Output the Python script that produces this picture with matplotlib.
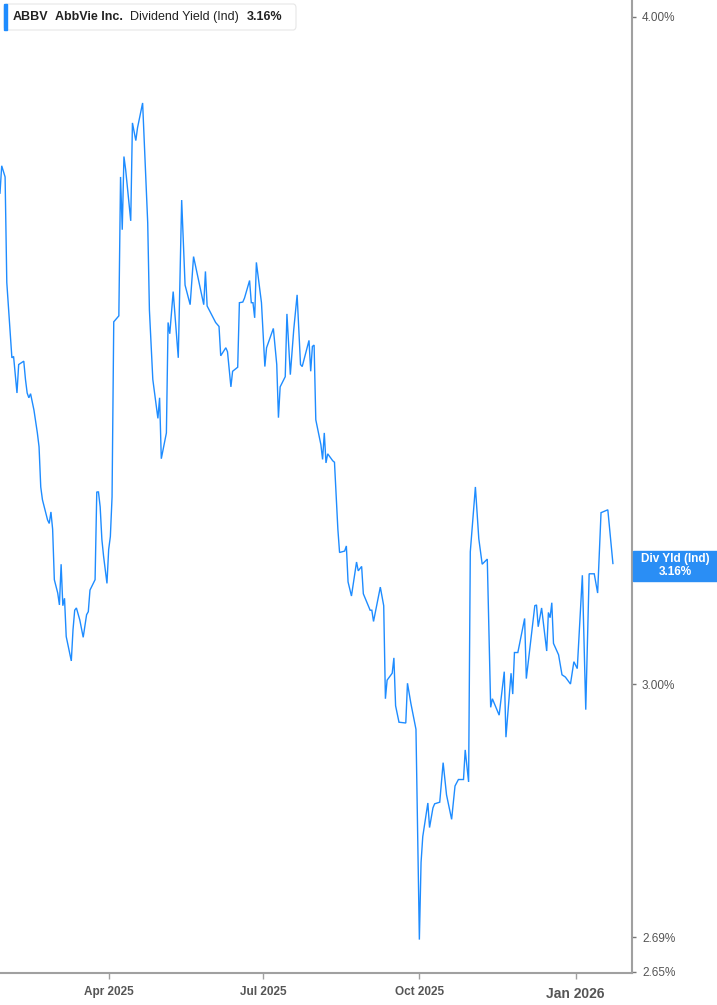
import matplotlib
matplotlib.use("Agg")
import matplotlib.pyplot as plt
from matplotlib.patches import FancyBboxPatch, Rectangle
import pandas as pd

plt.rcParams["font.family"] = ["Liberation Sans", "DejaVu Sans"]

# ABBV dividend yield (Ind), %
dates = [
    "2025-01-27", "2025-01-28", "2025-01-30", "2025-01-31", "2025-02-03", "2025-02-04",
    "2025-02-06", "2025-02-07", "2025-02-10", "2025-02-11", "2025-02-12", "2025-02-13",
    "2025-02-14", "2025-02-16", "2025-02-18", "2025-02-19", "2025-02-20", "2025-02-21",
    "2025-02-24", "2025-02-25", "2025-02-26", "2025-02-27", "2025-02-28", "2025-03-02",
    "2025-03-03", "2025-03-04", "2025-03-05", "2025-03-06", "2025-03-07", "2025-03-10",
    "2025-03-11", "2025-03-12", "2025-03-13", "2025-03-15", "2025-03-17", "2025-03-19",
    "2025-03-20", "2025-03-21", "2025-03-24", "2025-03-25", "2025-03-26", "2025-03-27",
    "2025-03-28", "2025-03-29", "2025-03-31", "2025-04-01", "2025-04-02", "2025-04-03",
    "2025-04-04", "2025-04-07", "2025-04-08", "2025-04-09", "2025-04-10", "2025-04-11",
    "2025-04-14", "2025-04-15", "2025-04-17", "2025-04-18", "2025-04-21", "2025-04-22",
    "2025-04-24", "2025-04-25", "2025-04-27", "2025-04-30", "2025-05-01", "2025-05-02",
    "2025-05-05", "2025-05-06", "2025-05-07", "2025-05-09", "2025-05-12", "2025-05-14",
    "2025-05-16", "2025-05-19", "2025-05-21", "2025-05-27", "2025-05-28", "2025-05-29",
    "2025-06-03", "2025-06-05", "2025-06-06", "2025-06-09", "2025-06-10", "2025-06-12",
    "2025-06-13", "2025-06-16", "2025-06-17", "2025-06-19", "2025-06-20", "2025-06-23",
    "2025-06-24", "2025-06-25", "2025-06-26", "2025-06-27", "2025-06-30", "2025-07-02",
    "2025-07-03", "2025-07-07", "2025-07-09", "2025-07-10", "2025-07-11", "2025-07-14",
    "2025-07-15", "2025-07-17", "2025-07-19", "2025-07-21", "2025-07-23", "2025-07-24",
    "2025-07-28", "2025-07-29", "2025-07-30", "2025-07-31", "2025-08-01", "2025-08-04",
    "2025-08-05", "2025-08-06", "2025-08-07", "2025-08-08", "2025-08-11", "2025-08-12",
    "2025-08-14", "2025-08-15", "2025-08-18", "2025-08-19", "2025-08-20", "2025-08-22",
    "2025-08-25", "2025-08-26", "2025-08-28", "2025-08-29", "2025-09-02", "2025-09-03",
    "2025-09-04", "2025-09-08", "2025-09-10", "2025-09-11", "2025-09-12", "2025-09-15",
    "2025-09-16", "2025-09-17", "2025-09-19", "2025-09-23", "2025-09-24", "2025-09-26",
    "2025-09-29", "2025-10-01", "2025-10-02", "2025-10-03", "2025-10-06", "2025-10-07",
    "2025-10-09", "2025-10-10", "2025-10-13", "2025-10-15", "2025-10-17", "2025-10-20",
    "2025-10-22", "2025-10-24", "2025-10-27", "2025-10-28", "2025-10-30", "2025-10-31",
    "2025-11-03", "2025-11-05", "2025-11-07", "2025-11-10", "2025-11-12", "2025-11-13",
    "2025-11-17", "2025-11-20", "2025-11-21", "2025-11-24", "2025-11-25", "2025-11-26",
    "2025-11-28", "2025-12-02", "2025-12-03", "2025-12-06", "2025-12-08", "2025-12-09",
    "2025-12-10", "2025-12-12", "2025-12-15", "2025-12-16", "2025-12-17", "2025-12-18",
    "2025-12-19", "2025-12-22", "2025-12-24", "2025-12-26", "2025-12-29", "2025-12-31",
    "2026-01-02", "2026-01-05", "2026-01-07", "2026-01-09", "2026-01-12", "2026-01-14",
    "2026-01-16", "2026-01-20", "2026-01-23",
]
yields = [
    3.707, 3.751, 3.733, 3.567, 3.453, 3.455,
    3.401, 3.443, 3.448, 3.421, 3.401, 3.394,
    3.400, 3.376, 3.343, 3.323, 3.266, 3.248,
    3.220, 3.215, 3.231, 3.207, 3.138, 3.120,
    3.104, 3.159, 3.103, 3.113, 3.062, 3.030,
    3.071, 3.097, 3.100, 3.084, 3.061, 3.091,
    3.095, 3.124, 3.138, 3.259, 3.259, 3.238,
    3.193, 3.170, 3.133, 3.179, 3.197, 3.252,
    3.507, 3.516, 3.733, 3.649, 3.766, 3.745,
    3.663, 3.821, 3.792, 3.813, 3.854, 3.789,
    3.660, 3.525, 3.421, 3.364, 3.394, 3.306,
    3.343, 3.506, 3.489, 3.553, 3.453, 3.696,
    3.563, 3.533, 3.607, 3.533, 3.584, 3.531,
    3.506, 3.500, 3.456, 3.468, 3.462, 3.410,
    3.433, 3.439, 3.536, 3.537, 3.543, 3.570,
    3.536, 3.536, 3.513, 3.598, 3.536, 3.440,
    3.468, 3.497, 3.443, 3.365, 3.410, 3.425,
    3.519, 3.428, 3.495, 3.548, 3.443, 3.440,
    3.479, 3.433, 3.470, 3.472, 3.362, 3.326,
    3.305, 3.343, 3.300, 3.313, 3.303, 3.301,
    3.207, 3.175, 3.177, 3.184, 3.135, 3.116,
    3.162, 3.150, 3.156, 3.119, 3.097, 3.097,
    3.082, 3.128, 3.103, 2.981, 3.005, 3.014,
    3.034, 2.972, 2.951, 2.950, 3.001, 2.975,
    2.942, 2.687, 2.778, 2.809, 2.850, 2.820,
    2.844, 2.849, 2.851, 2.900, 2.860, 2.830,
    2.871, 2.879, 2.879, 2.916, 2.876, 3.176,
    3.266, 3.194, 3.159, 3.166, 2.970, 2.981,
    2.960, 3.016, 2.932, 3.014, 2.987, 3.041,
    3.041, 3.086, 3.007, 3.065, 3.103, 3.104,
    3.075, 3.100, 3.043, 3.094, 3.087, 3.107,
    3.053, 3.038, 3.012, 3.009, 3.000, 3.029,
    3.020, 3.144, 2.967, 3.146, 3.146, 3.120,
    3.230, 3.234, 3.160,
]

ytick_vals = [2.65, 2.69, 3.00, 4.00]
ytick_labels = ["2.65%", "2.69%", "3.00%", "4.00%"]
xtick_dates = ["2025-04-01", "2025-07-01", "2025-10-01", "2026-01-01"]
xtick_labels = ["Apr 2025", "Jul 2025", "Oct 2025", "Jan 2026"]
last_value = 3.16

LINE = "#1e8cff"
AXIS = "#a0a0a0"
TEXT = "#555555"

x = pd.to_datetime(dates)

W, H = 717, 1005
fig = plt.figure(figsize=(W / 100, H / 100), dpi=100)
ax = fig.add_axes([0, 32 / H, 632.3 / W, 973 / H])

ax.plot(x, yields, color=LINE, lw=1.0, solid_joinstyle="miter")

ax.set_yscale("log")
ax.set_ylim(2.6486, 4.0289)
ax.set_xlim(pd.Timestamp("2025-01-27"), pd.Timestamp("2026-02-03 10:00"))

ax.yaxis.tick_right()
ax.set_yticks(ytick_vals)
ax.set_yticklabels(ytick_labels)
ax.yaxis.set_minor_locator(matplotlib.ticker.NullLocator())
ax.tick_params(axis="y", direction="out", length=3, width=1, color="#777777",
               labelsize=8.5, labelcolor=TEXT, pad=4)

ax.set_xticks(pd.to_datetime(xtick_dates))
ax.set_xticklabels(xtick_labels)
ax.xaxis.set_minor_locator(matplotlib.ticker.NullLocator())
ax.tick_params(axis="x", direction="out", length=4, width=1, color=AXIS,
               labelsize=8.5, labelcolor=TEXT, pad=5)
for lab in ax.get_xticklabels():
    lab.set_fontweight("bold")
    if lab.get_text().startswith("Jan"):
        lab.set_fontsize(10)
        lab.set_y(-0.002)

for s in ("left", "top"):
    ax.spines[s].set_visible(False)
ax.spines["right"].set_color(AXIS)
ax.spines["right"].set_linewidth(1.5)
ax.spines["bottom"].set_color(AXIS)
ax.spines["bottom"].set_linewidth(1.5)

# header box
hb = FancyBboxPatch((4 / W, 1 - 30 / H), 292 / W, 26 / H,
                    boxstyle="round,pad=0,rounding_size=0.004",
                    transform=fig.transFigure, facecolor="white",
                    edgecolor="#e6e6e6", lw=0.8)
fig.patches.append(hb)
fig.patches.append(Rectangle((4 / W, 1 - 30 / H), 3 / W, 26 / H,
                             transform=fig.transFigure, color=LINE))
ty = 1 - 17 / H
fig.text(13 / W, ty, "ABBV", fontsize=9, fontweight="bold", color="#222222", va="center")
fig.text(55 / W, ty, "AbbVie Inc.", fontsize=9, fontweight="bold", color="#222222", va="center")
fig.text(130 / W, ty, "Dividend Yield (Ind)", fontsize=9, color="#222222", va="center")
fig.text(247 / W, ty, f"{last_value:.2f}%", fontsize=9, fontweight="bold", color="#222222", va="center")

# last value tag on the right axis
fig.patches.append(Rectangle((633 / W, 1 - 580.7 / H), 84 / W, 30 / H,
                             transform=fig.transFigure, color="#2a8ef5"))
fig.text(675 / W, 1 - 559 / H, "Div Yld (Ind)", fontsize=8.5, fontweight="bold",
         color="white", ha="center", va="center")
fig.text(675 / W, 1 - 572 / H, f"{last_value:.2f}%", fontsize=8.5, fontweight="bold",
         color="white", ha="center", va="center")

fig.savefig("out.png", dpi=100)
